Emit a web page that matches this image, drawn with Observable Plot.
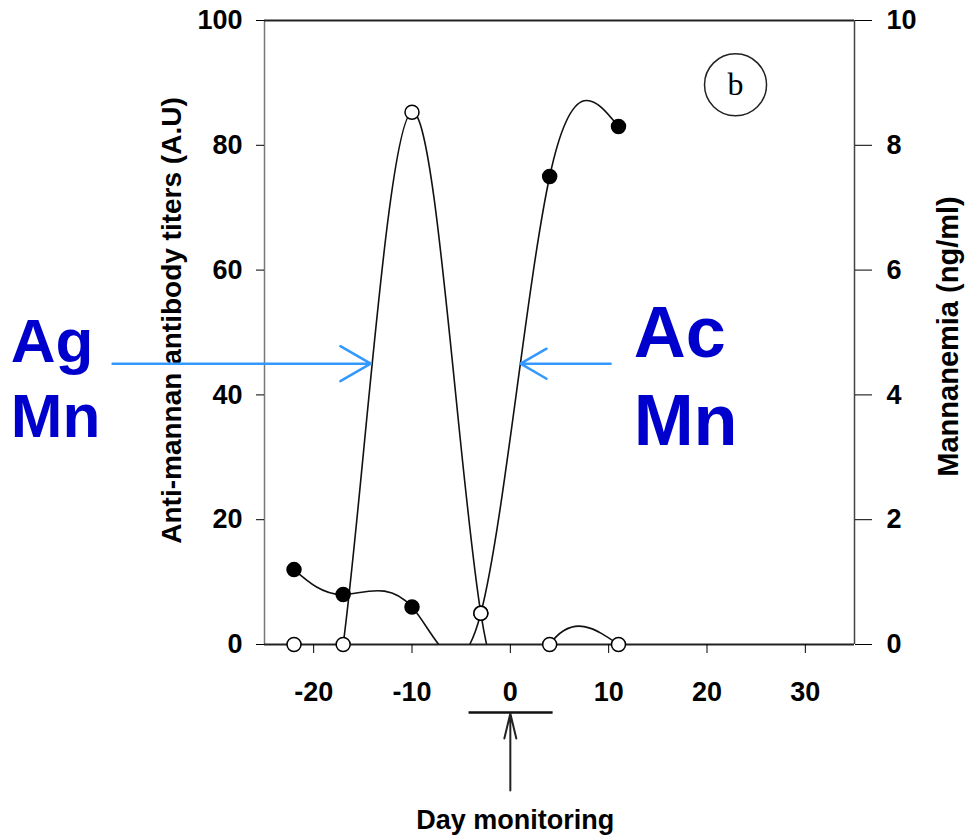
<!DOCTYPE html>
<html><head><meta charset="utf-8">
<script src="https://cdn.jsdelivr.net/npm/d3@7"></script>
<script src="https://cdn.jsdelivr.net/npm/@observablehq/plot@0.6"></script>
<style>html,body{margin:0;padding:0;background:#fff;} #chart{width:966px;height:838px;overflow:hidden}</style>
</head><body><div id="chart"></div>
<script>
// ---- data ----
const days = [-22, -17, -10, -3, 4, 11];
const antibodyTiters = [12, 8, 6, 5, 75, 83];      // A.U, filled markers (left axis)
const mannanemia = [0, 0, 8.53, 0.5, 0, 0];        // ng/ml, open markers (right axis)
const xTicks = [-20, -10, 0, 10, 20, 30];
const leftTicks = [0, 20, 40, 60, 80, 100];
const rightTicks = [0, 2, 4, 6, 8, 10];
const yLabelLeft = "Anti-mannan antibody titers (A.U)";
const yLabelRight = "Mannanemia (ng/ml)";
const xLabel = "Day monitoring";
const panelTag = "b";
const leftNote = ["Ag", "Mn"];
const rightNote = ["Ac", "Mn"];

const rightScale = 10; // right axis (0-10) mapped onto left axis (0-100)
const ab = days.map((d, i) => ({day: d, v: antibodyTiters[i]}));
const mn = days.map((d, i) => ({day: d, v: mannanemia[i] * rightScale}));

const blue = "#0000cc", arrowBlue = "#3399ff";
const tickFont = {fontSize: 27, fontWeight: "bold"};

const chart = Plot.plot({
  width: 966, height: 838,
  marginLeft: 264, marginRight: 112, marginTop: 20, marginBottom: 194,
  x: {domain: [-25, 35]},
  y: {domain: [0, 100]},
  style: {fontFamily: "'Liberation Sans', Arial, sans-serif", fontSize: "27px", fontWeight: "bold", background: "white", color: "black"},
  marks: [
    Plot.ruleX([-25], {stroke: "#777", strokeWidth: 1.5}),
    Plot.ruleX([35], {stroke: "#444", strokeWidth: 1.5}),
    Plot.ruleY([0], {stroke: "#222", strokeWidth: 2}),
    Plot.ruleY([100], {stroke: "#222", strokeWidth: 2}),
    Plot.axisX({ticks: xTicks, tickSize: 9, tickPadding: 28, tickFormat: d => String(d), label: null, ...tickFont}),
    Plot.axisY({ticks: leftTicks, anchor: "left", tickSize: 8, tickPadding: 14, tickFormat: d => String(d), label: null, ...tickFont}),
    Plot.axisY({ticks: rightTicks.map(t => t * rightScale), anchor: "right", tickSize: 17, tickPadding: 15, tickFormat: d => String(d / rightScale), label: null, ...tickFont}),
    Plot.line(mn, {x: "day", y: "v", curve: "natural", stroke: "#111", strokeWidth: 1.6, clip: true}),
    Plot.line(ab, {x: "day", y: "v", curve: "natural", stroke: "#111", strokeWidth: 1.6, clip: true}),
    Plot.dot(ab, {x: "day", y: "v", r: 7, fill: "black", stroke: "black"}),
    Plot.dot(mn, {x: "day", y: "v", r: 7, fill: "white", stroke: "black", strokeWidth: 1.5}),
    // panel tag
    Plot.dot([panelTag], {x: 22.9, y: 89.7, r: 31, stroke: "#222", fill: "none", strokeWidth: 1.5}),
    Plot.text([panelTag], {x: 22.9, y: 89.7, text: d => d, fontFamily: "'Liberation Serif', 'Times New Roman', serif", fontWeight: "normal", fontSize: 32}),
    // axis titles
    Plot.text([yLabelLeft], {frameAnchor: "left", dx: -92, dy: -12, rotate: -90, text: d => d, fontSize: 28, fontWeight: "bold", textAnchor: "middle"}),
    Plot.text([yLabelRight], {frameAnchor: "right", dx: 94.5, dy: 4, rotate: -90, text: d => d, fontSize: 29, fontWeight: "bold", textAnchor: "middle"}),
    Plot.text([xLabel], {x: 0.5, y: -29.5, text: d => d, fontSize: 27, fontWeight: "bold", lineAnchor: "bottom"}),
    // day-0 marker
    Plot.ruleY([-10.9], {x1: -4.2, x2: 4.35, stroke: "#111", strokeWidth: 2.5}),
    Plot.arrow([xLabel], {x1: 0, y1: -23.4, x2: 0, y2: -11.06, stroke: "#222", strokeWidth: 2, headLength: 43, headAngle: 27}),
    // annotations
    Plot.arrow([leftNote], {x1: -40.45, y1: 45, x2: -14.2, y2: 45, stroke: arrowBlue, strokeWidth: 2.5, headLength: 21, headAngle: 60}),
    Plot.arrow([rightNote], {x1: 10.2, y1: 45, x2: 1.04, y2: 45, stroke: arrowBlue, strokeWidth: 2.5, headLength: 21, headAngle: 60}),
    Plot.text([leftNote[0]], {x: -50.8, y: 45.2, text: d => d, fill: blue, fontSize: 62, fontWeight: "bold", textAnchor: "start", lineAnchor: "bottom"}),
    Plot.text([leftNote[1]], {x: -50.8, y: 33.2, text: d => d, fill: blue, fontSize: 62, fontWeight: "bold", textAnchor: "start", lineAnchor: "bottom"}),
    Plot.text([rightNote[0]], {x: 12.54, y: 46.0, text: d => d, fill: blue, fontSize: 72, fontWeight: "bold", textAnchor: "start", lineAnchor: "bottom"}),
    Plot.text([rightNote[1]], {x: 12.54, y: 31.9, text: d => d, fill: blue, fontSize: 72, fontWeight: "bold", textAnchor: "start", lineAnchor: "bottom"})
  ]
});
document.getElementById("chart").appendChild(chart);
</script>
</body></html>
